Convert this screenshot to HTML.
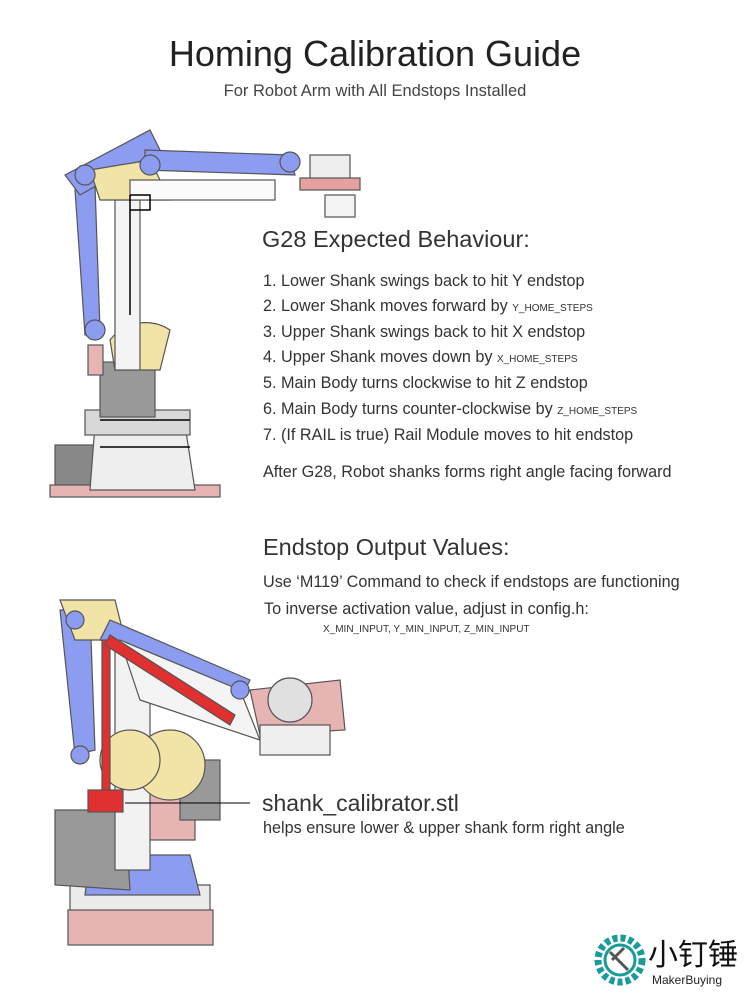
<!DOCTYPE html>
<html><head><meta charset="utf-8"><style>
body{margin:0;background:#fff;}
#p{position:relative;width:750px;height:1000px;overflow:hidden;font-family:"Liberation Sans",sans-serif;color:#222;}
.t{position:absolute;white-space:nowrap;line-height:1;}
.li{font-size:16.2px;left:263px;color:#333;}
.sm{font-size:10px;}
</style></head><body><div id="p">
<svg width="750" height="1000" style="position:absolute;left:0;top:0">
<g stroke="#555" stroke-width="1.2">
<rect x="55" y="445" width="45" height="50" fill="#888"/>
<rect x="50" y="485" width="170" height="12" fill="#e7b4b4"/>
<polygon points="95,425 185,425 195,490 90,490" fill="#eee"/>
<rect x="85" y="410" width="105" height="25" fill="#d8d8d8"/>
<rect x="100" y="362" width="55" height="55" fill="#999"/>
<path d="M110,340 A45,45 0 0 1 170,330 L160,370 L115,370Z" fill="#f2e3a6"/>
<rect x="115" y="200" width="25" height="170" fill="#f4f4f4"/>
<rect x="88" y="345" width="15" height="30" fill="#e7b4b4"/>
<polygon points="75,190 95,185 100,330 85,335" fill="#8c9cf0"/>
<polygon points="65,175 150,130 160,150 80,195" fill="#8c9cf0"/>
<polygon points="90,170 150,160 170,200 100,200" fill="#f2e3a6"/>
<polygon points="145,150 290,155 295,175 145,170" fill="#8c9cf0"/>
<rect x="130" y="180" width="145" height="20" fill="#fafafa"/>
<rect x="310" y="155" width="40" height="30" fill="#eee"/>
<rect x="300" y="178" width="60" height="12" fill="#e7a0a0"/>
<rect x="325" y="195" width="30" height="22" fill="#f4f4f4"/>
<circle cx="85" cy="175" r="10" fill="#8c9cf0"/><circle cx="150" cy="165" r="10" fill="#8c9cf0"/>
<circle cx="290" cy="162" r="10" fill="#8c9cf0"/><circle cx="95" cy="330" r="10" fill="#8c9cf0"/>
</g>
<g stroke="#000" stroke-width="1.5" fill="none">
<path d="M130,195 V315 M130,195 H150 V210 H130"/>
<path d="M100,420 H190 M100,447 H190"/>
</g>
<g stroke="#555" stroke-width="1.2">
<polygon points="70,885 210,885 210,940 70,940" fill="#ececec"/>
<rect x="68" y="910" width="145" height="35" fill="#e7b4b4"/>
<polygon points="90,855 190,855 200,895 85,895" fill="#8c9cf0"/>
<polygon points="55,810 125,810 130,890 55,885" fill="#999"/>
<rect x="135" y="790" width="60" height="50" fill="#e7b4b4"/>
<rect x="180" y="760" width="40" height="60" fill="#999"/>
<rect x="115" y="640" width="35" height="230" fill="#f2f2f2"/>
<circle cx="170" cy="765" r="35" fill="#f2e3a6"/>
<circle cx="130" cy="760" r="30" fill="#f2e3a6"/>
<polygon points="60,610 90,610 95,750 75,755" fill="#8c9cf0"/>
<polygon points="60,600 115,600 125,640 75,640" fill="#f2e3a6"/>
<polygon points="110,620 250,680 240,700 100,640" fill="#8c9cf0"/>
<polygon points="120,640 240,690 260,740 140,700" fill="#f4f4f4"/>
<polygon points="250,690 340,680 345,730 260,735" fill="#e7b4b4"/>
<circle cx="290" cy="700" r="22" fill="#e0e0e0"/>
<rect x="260" y="725" width="70" height="30" fill="#f0f0f0"/>
<polygon points="102,640 110,640 110,790 102,790" fill="#e03030"/>
<polygon points="105,645 110,635 235,715 230,725" fill="#e03030"/>
<rect x="88" y="790" width="35" height="22" fill="#e03030"/>
<circle cx="75" cy="620" r="9" fill="#8c9cf0"/><circle cx="240" cy="690" r="9" fill="#8c9cf0"/>
<circle cx="80" cy="755" r="9" fill="#8c9cf0"/>
</g>
<path d="M125,803 H250" stroke="#000" stroke-width="1"/>
<circle cx="620" cy="960" r="22" fill="none" stroke="#1a9b9b" stroke-width="7" stroke-dasharray="5 3"/>
<circle cx="620" cy="960" r="15" fill="none" stroke="#1a9b9b" stroke-width="3"/>
<path d="M610,952 L628,970 M612,960 L624,948" stroke="#555" stroke-width="3"/>
</svg>
<div class="t" style="left:0;width:750px;text-align:center;top:36px;font-size:36px;font-weight:300;color:#222">Homing Calibration Guide</div>
<div class="t" style="left:0;width:750px;text-align:center;top:83px;font-size:16.5px;color:#444">For Robot Arm with All Endstops Installed</div>
<div class="t" style="left:262px;top:228px;font-size:23.5px;color:#333">G28 Expected Behaviour:</div>
<div class="t li" style="top:273px">1. Lower Shank swings back to hit Y endstop</div>
<div class="t li" style="top:298px">2. Lower Shank moves forward by <span class="sm">Y_HOME_STEPS</span></div>
<div class="t li" style="top:324px">3. Upper Shank swings back to hit X endstop</div>
<div class="t li" style="top:349px">4. Upper Shank moves down by <span class="sm">X_HOME_STEPS</span></div>
<div class="t li" style="top:375px">5. Main Body turns clockwise to hit Z endstop</div>
<div class="t li" style="top:401px">6. Main Body turns counter-clockwise by <span class="sm">Z_HOME_STEPS</span></div>
<div class="t li" style="top:427px">7. (If RAIL is true) Rail Module moves to hit endstop</div>
<div class="t li" style="top:464px">After G28, Robot shanks forms right angle facing forward</div>
<div class="t" style="left:263px;top:536px;font-size:23.5px;color:#333">Endstop Output Values:</div>
<div class="t li" style="top:574px">Use ‘M119’ Command to check if endstops are functioning</div>
<div class="t li" style="top:601px;left:264px">To inverse activation value, adjust in config.h:</div>
<div class="t sm" style="left:323px;top:625px;color:#333">X_MIN_INPUT, Y_MIN_INPUT, Z_MIN_INPUT</div>
<div class="t" style="left:262px;top:792px;font-size:23px;color:#333">shank_calibrator.stl</div>
<div class="t li" style="top:820px">helps ensure lower &amp; upper shank form right angle</div>
<div class="t" style="left:648px;top:937px;font-size:30px;font-family:'Noto Sans CJK SC',sans-serif;color:#111">小钉锤</div>
<div class="t" style="left:652px;top:974px;font-size:12px;color:#222">MakerBuying</div>
</div></body></html>
